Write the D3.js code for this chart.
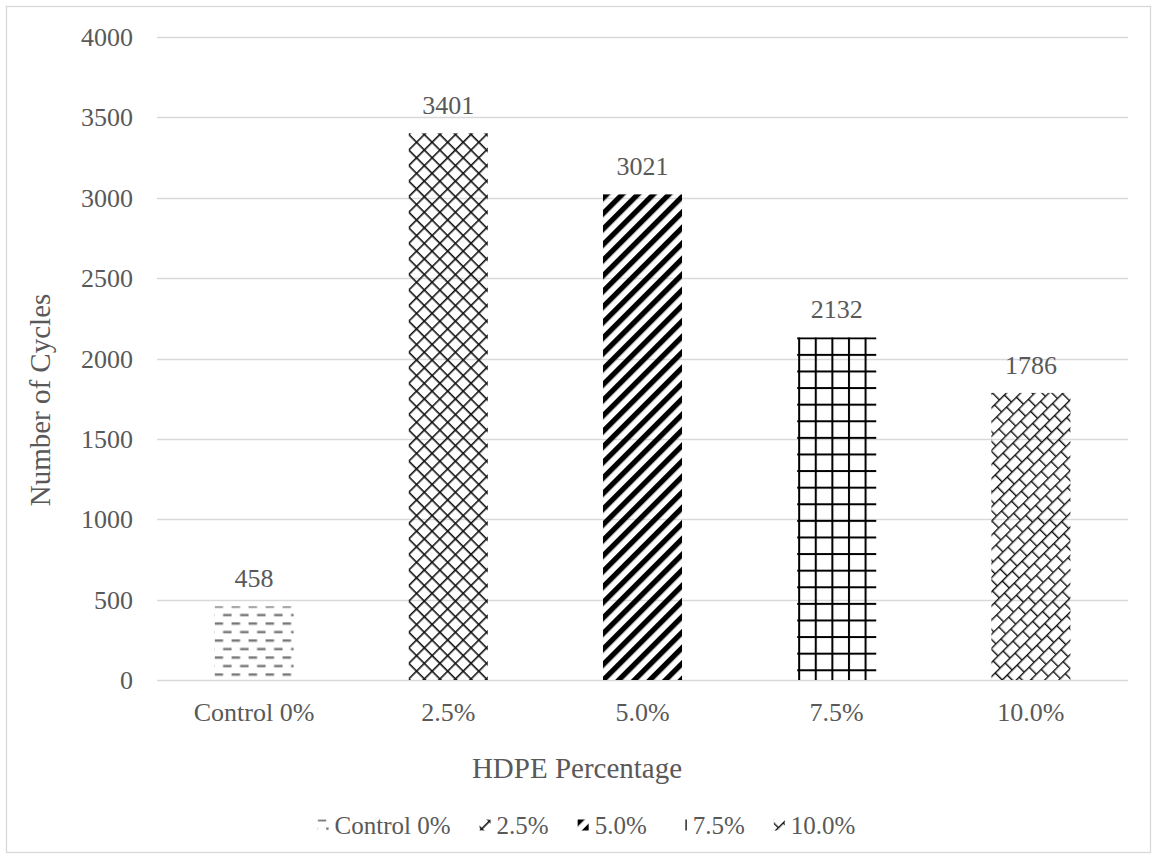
<!DOCTYPE html>
<html>
<head>
<meta charset="utf-8">
<script src="https://cdn.jsdelivr.net/npm/d3@7"></script>
<style>
  html, body { margin: 0; padding: 0; background: #fff; }
  svg text { font-family: "Liberation Serif", "Times New Roman", serif; fill: #595959; }
</style>
</head>
<body>
<svg id="chart" width="1153" height="856"></svg>
<script>
// Fatigue life (number of cycles) by HDPE content
const categories = ["Control 0%", "2.5%", "5.0%", "7.5%", "10.0%"];
const cycles = [458, 3401, 3021, 2132, 1786];
const yTicks = [0, 500, 1000, 1500, 2000, 2500, 3000, 3500, 4000];
const fills = ["dashedHorizontal", "diamondLattice", "wideUpwardDiagonal", "largeGrid", "diagonalBrick"];

const W = 1153, H = 856;
const margin = { left: 157, right: 1128, top: 37, bottom: 680 };
const FONT = 26;
const TITLE_FONT = 29;

const svg = d3.select("#chart");
const defs = svg.append("defs");

// outer chart frame
svg.append("rect")
  .attr("x", 6.5).attr("y", 6.5).attr("width", W - 9).attr("height", H - 10)
  .attr("fill", "#fff").attr("stroke", "#d9d9d9").attr("stroke-width", 1.3);

const x = d3.scaleBand().domain(categories).range([margin.left, margin.right])
  .paddingInner(0.593).paddingOuter(0.2965);
const y = d3.scaleLinear().domain([0, 4000]).range([margin.bottom, margin.top]);

// hatch pattern builders, anchored at (ox, oy)
function makePattern(id, kind, ox, oy) {
  const p = defs.append("pattern").attr("id", id).attr("patternUnits", "userSpaceOnUse");
  if (kind === "dashedHorizontal") {
    p.attr("width", 17).attr("height", 17).attr("x", ox).attr("y", oy - 1);
    p.append("rect").attr("x", 0).attr("y", 0).attr("width", 8.5).attr("height", 2.4).attr("fill", "#777");
    p.append("rect").attr("x", 8.5).attr("y", 8.5).attr("width", 8.5).attr("height", 2.4).attr("fill", "#777");
  } else if (kind === "diamondLattice") {
    const s = 11;
    p.attr("width", s).attr("height", s)
      .attr("patternTransform", `translate(${ox},${oy}) rotate(45)`);
    p.append("rect").attr("x", 0).attr("y", 0).attr("width", s).attr("height", 1.6).attr("fill", "#111");
    p.append("rect").attr("x", 0).attr("y", 0).attr("width", 1.6).attr("height", s).attr("fill", "#111");
  } else if (kind === "wideUpwardDiagonal") {
    const s = 11;
    p.attr("width", s).attr("height", s)
      .attr("patternTransform", `translate(${ox},${oy}) rotate(-45)`);
    p.append("rect").attr("x", 0).attr("y", 0).attr("width", s).attr("height", 5.3).attr("fill", "#000");
  } else if (kind === "largeGrid") {
    const s = 16.6;
    p.attr("width", s).attr("height", s).attr("x", ox).attr("y", oy);
    p.append("rect").attr("x", 0).attr("y", 0).attr("width", s).attr("height", 2).attr("fill", "#000");
    p.append("rect").attr("x", 1).attr("y", 0).attr("width", 2).attr("height", s).attr("fill", "#000");
  } else if (kind === "diagonalBrick") {
    const w = 14, h = 10;
    p.attr("width", w).attr("height", 2 * h)
      .attr("patternTransform", `translate(${ox},${oy}) rotate(-45)`);
    p.append("rect").attr("x", 0).attr("y", 0).attr("width", w).attr("height", 1.4).attr("fill", "#111");
    p.append("rect").attr("x", 0).attr("y", h).attr("width", w).attr("height", 1.4).attr("fill", "#111");
    p.append("rect").attr("x", 0).attr("y", 0).attr("width", 1.4).attr("height", h).attr("fill", "#111");
    p.append("rect").attr("x", w / 2).attr("y", h).attr("width", 1.4).attr("height", h).attr("fill", "#111");
  }
  return `url(#${id})`;
}

// gridlines
svg.append("g").selectAll("line").data(yTicks).join("line")
  .attr("x1", margin.left).attr("x2", margin.right)
  .attr("y1", d => Math.round(y(d)) + 0.5).attr("y2", d => Math.round(y(d)) + 0.5)
  .attr("stroke", "#d9d9d9").attr("stroke-width", 1.3);

// y tick labels
svg.append("g").selectAll("text").data(yTicks).join("text")
  .attr("x", 133).attr("y", d => y(d))
  .attr("dy", "0.35em").attr("text-anchor", "end")
  .attr("font-size", FONT).text(d => d);

// bars
const bars = svg.append("g");
categories.forEach((c, i) => {
  const bx = x(c), by = y(cycles[i]);
  const fill = makePattern("bar" + i, fills[i], bx, by);
  bars.append("rect")
    .attr("x", bx).attr("y", by)
    .attr("width", x.bandwidth()).attr("height", y(0) - by)
    .attr("fill", fill);
});

// value labels
svg.append("g").selectAll("text").data(categories).join("text")
  .attr("x", d => x(d) + x.bandwidth() / 2)
  .attr("y", (d, i) => y(cycles[i]) - 19)
  .attr("text-anchor", "middle").attr("font-size", FONT)
  .text((d, i) => cycles[i]);

// x tick labels
svg.append("g").selectAll("text").data(categories).join("text")
  .attr("x", d => x(d) + x.bandwidth() / 2).attr("y", 712)
  .attr("dy", "0.35em").attr("text-anchor", "middle").attr("font-size", FONT)
  .text(d => d);

// axis titles
svg.append("text")
  .attr("x", 577).attr("y", 768)
  .attr("dy", "0.35em").attr("text-anchor", "middle").attr("font-size", TITLE_FONT)
  .text("HDPE Percentage");

svg.append("text")
  .attr("transform", `translate(40,400) rotate(-90)`)
  .attr("dy", "0.35em").attr("text-anchor", "middle").attr("font-size", TITLE_FONT)
  .text("Number of Cycles");

// legend
const legend = svg.append("g");
const sw = 11, textOff = 20, itemGap = 26, legendY = 825;
let cx = 0;
const items = [];
categories.forEach((c, i) => {
  const g = legend.append("g");
  const t = g.append("text").attr("x", textOff).attr("y", 0).attr("dy", "0.35em")
    .attr("font-size", 25).text(c);
  const tw = t.node().getComputedTextLength();
  items.push({ g, offset: cx, i });
  cx += textOff + tw + itemGap;
});
const totalW = cx - itemGap;
const lx0 = 585 - totalW / 2;
items.forEach(({ g, offset, i }) => {
  const gx = lx0 + offset + 3;
  g.attr("transform", `translate(${gx - 3},${legendY})`);
  const fill = makePattern("leg" + i, fills[i], gx, legendY - sw / 2);
  g.insert("rect", "text")
    .attr("x", 3).attr("y", -sw / 2).attr("width", sw).attr("height", sw)
    .attr("fill", fill);
});
</script>
</body>
</html>
